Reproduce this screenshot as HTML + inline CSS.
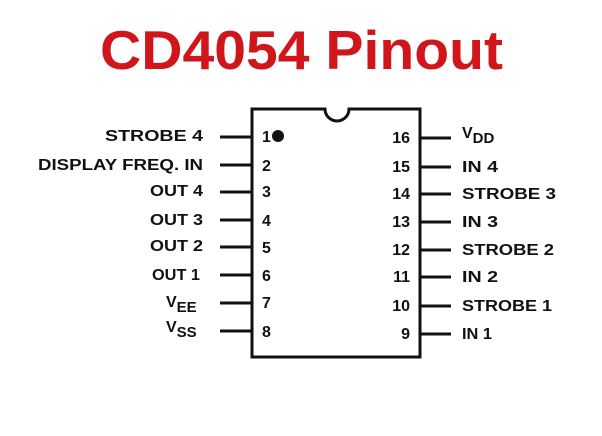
<!DOCTYPE html>
<html><head><meta charset="utf-8"><style>html,body{margin:0;padding:0;background:#fff}svg{display:block}</style></head>
<body>
<svg width="602" height="436" viewBox="0 0 602 436" xmlns="http://www.w3.org/2000/svg">
<text x="100" y="69" font-family="Liberation Sans, sans-serif" font-weight="bold" font-size="55" fill="#d0161a" textLength="403" lengthAdjust="spacingAndGlyphs">CD4054 Pinout</text>
<g stroke="#111" stroke-width="3" fill="none">
<path d="M252 109 L325 109 A12 12 0 0 0 349 109 L420 109 L420 357 L252 357 Z"/>
<path d="M220 137H252 M220 165H252 M220 192H252 M220 220H252 M220 247H252 M220 275H252 M220 303H252 M220 331H252"/>
<path d="M420 138H451 M420 167H451 M420 194H451 M420 222H451 M420 250H451 M420 277H451 M420 306H451 M420 334H451"/>
</g>
<circle cx="278" cy="136" r="6" fill="#111"/>
<g font-family="Liberation Sans, sans-serif" font-weight="bold" font-size="16" fill="#111">
<g text-anchor="start">
<text x="262" y="142">1</text><text x="262" y="171">2</text><text x="262" y="197">3</text><text x="262" y="226">4</text>
<text x="262" y="253">5</text><text x="262" y="281">6</text><text x="262" y="308">7</text><text x="262" y="337">8</text>
</g>
<g text-anchor="end">
<text x="410" y="143">16</text><text x="410" y="172">15</text><text x="410" y="199">14</text><text x="410" y="227">13</text>
<text x="410" y="255">12</text><text x="410" y="282">11</text><text x="410" y="311">10</text><text x="410" y="339">9</text>
</g>
<g>
<text x="105" y="141" textLength="98" lengthAdjust="spacingAndGlyphs">STROBE 4</text>
<text x="38" y="170" textLength="165" lengthAdjust="spacingAndGlyphs">DISPLAY FREQ. IN</text>
<text x="150" y="196" textLength="53" lengthAdjust="spacingAndGlyphs">OUT 4</text>
<text x="150" y="225" textLength="53" lengthAdjust="spacingAndGlyphs">OUT 3</text>
<text x="150" y="251" textLength="53" lengthAdjust="spacingAndGlyphs">OUT 2</text>
<text x="152" y="280" textLength="48" lengthAdjust="spacingAndGlyphs">OUT 1</text>
<text x="166" y="307">V<tspan font-size="15" dy="5">EE</tspan></text>
<text x="166" y="332">V<tspan font-size="15" dy="5">SS</tspan></text>
</g>
<g>
<text x="462" y="138">V<tspan font-size="15" dy="5">DD</tspan></text>
<text x="462" y="172" textLength="36" lengthAdjust="spacingAndGlyphs">IN 4</text>
<text x="462" y="199" textLength="94" lengthAdjust="spacingAndGlyphs">STROBE 3</text>
<text x="462" y="227" textLength="36" lengthAdjust="spacingAndGlyphs">IN 3</text>
<text x="462" y="255" textLength="92" lengthAdjust="spacingAndGlyphs">STROBE 2</text>
<text x="462" y="282" textLength="36" lengthAdjust="spacingAndGlyphs">IN 2</text>
<text x="462" y="311" textLength="90" lengthAdjust="spacingAndGlyphs">STROBE 1</text>
<text x="462" y="339" textLength="30" lengthAdjust="spacingAndGlyphs">IN 1</text>
</g>
</g>
</svg>
</body></html>
